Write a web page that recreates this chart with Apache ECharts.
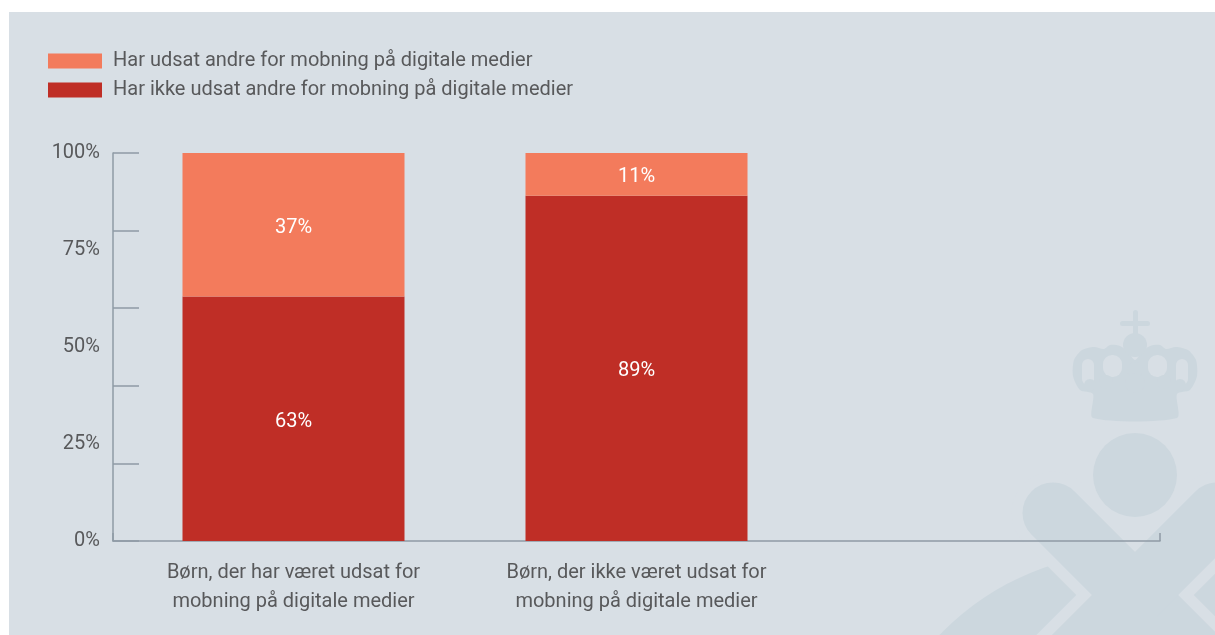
<!DOCTYPE html>
<html>
<head>
<meta charset="utf-8">
<script src="https://cdn.jsdelivr.net/npm/echarts@6/dist/echarts.min.js"></script>
<style>
html,body{margin:0;padding:0;background:#ffffff;}
#chart{width:1215px;height:635px;}
</style>
</head>
<body>
<div id="chart"></div>
<script>
// ---- data ----
const categories = [
  'Børn, der har været udsat for\nmobning på digitale medier',
  'Børn, der ikke været udsat for\nmobning på digitale medier',
  ''
];
const seriesNames = [
  'Har udsat andre for mobning på digitale medier',
  'Har ikke udsat andre for mobning på digitale medier'
];
const udsatValues = [37, 11, null];
const ikkeUdsatValues = [63, 89, null];
const yTickLabelStep = 25;
const yTickMarkStep = 20;

// ---- style ----
const FONT = 'Roboto';
const TEXT = '#58595b';
const AXIS = '#8f9ba5';
const BG = '#d8dfe5';
const WM = '#ccd7de';
const ORANGE = '#f37b5c';
const RED = '#bf2e26';
const FS = 20;

const chart = echarts.init(document.getElementById('chart'));

const crownPts = [
  [1093,418],[1093,394],[1080,390],[1073,376],[1074,360],[1082,350],[1094,347],
  [1104,349],[1110,345],[1120,346],[1128,352],[1135,360],[1142,352],[1150,346],[1160,345],
  [1166,349],[1176,347],[1188,350],[1196,360],[1197,376],[1190,390],[1177,394],[1177,418]
];

const watermark = [
  {type:'rect', z:-100, silent:true, shape:{x:9,y:12,width:1206,height:623}, style:{fill:BG}},
  {type:'circle', z:-90, silent:true, shape:{cx:1135,cy:824,r:272}, style:{fill:WM}},
  {type:'line', z:-89, silent:true, shape:{x1:1053,y1:513,x2:1330,y2:790}, style:{stroke:BG,lineWidth:83,lineCap:'round'}},
  {type:'line', z:-89, silent:true, shape:{x1:1217,y1:513,x2:940,y2:790}, style:{stroke:BG,lineWidth:83,lineCap:'round'}},
  {type:'line', z:-88, silent:true, shape:{x1:1053,y1:513,x2:1330,y2:790}, style:{stroke:WM,lineWidth:61,lineCap:'round'}},
  {type:'line', z:-88, silent:true, shape:{x1:1217,y1:513,x2:940,y2:790}, style:{stroke:WM,lineWidth:61,lineCap:'round'}},
  {type:'circle', z:-88, silent:true, shape:{cx:1135,cy:475,r:42}, style:{fill:WM}},
  {type:'polygon', z:-88, silent:true, shape:{points:crownPts, smooth:0.25}, style:{fill:WM}},
  {type:'rect', z:-87, silent:true, shape:{x:1082,y:359,width:12,height:26,r:6}, style:{fill:BG}},
  {type:'rect', z:-87, silent:true, shape:{x:1103,y:355,width:19,height:22,r:9}, style:{fill:BG}},
  {type:'rect', z:-87, silent:true, shape:{x:1176,y:359,width:12,height:26,r:6}, style:{fill:BG}},
  {type:'rect', z:-87, silent:true, shape:{x:1148,y:355,width:19,height:22,r:9}, style:{fill:BG}},
  {type:'circle', z:-86, silent:true, shape:{cx:1090,cy:385,r:6}, style:{fill:WM}},
  {type:'circle', z:-86, silent:true, shape:{cx:1106,cy:382,r:7}, style:{fill:WM}},
  {type:'circle', z:-86, silent:true, shape:{cx:1180,cy:385,r:6}, style:{fill:WM}},
  {type:'circle', z:-86, silent:true, shape:{cx:1164,cy:382,r:7}, style:{fill:WM}},
  {type:'circle', z:-86, silent:true, shape:{cx:1135,cy:370,r:8}, style:{fill:WM}},
  {type:'circle', z:-86, silent:true, shape:{cx:1135,cy:383,r:10}, style:{fill:WM}},
  {type:'circle', z:-86, silent:true, shape:{cx:1135,cy:345,r:12}, style:{fill:WM}},
  {type:'rect', z:-86, silent:true, shape:{x:1133,y:310,width:5,height:30,r:2.5}, style:{fill:WM}},
  {type:'rect', z:-86, silent:true, shape:{x:1120,y:321,width:30,height:5,r:2.5}, style:{fill:WM}}
];

const barLabel = {show: true, position: 'inside', offset: [0, 3], color: '#ffffff', fontSize: FS, fontFamily: FONT, formatter: '{c}%'};

const option = {
  backgroundColor: 'transparent',
  animation: false,
  textStyle: {fontFamily: FONT},
  graphic: watermark,
  legend: {
    orient: 'vertical',
    left: 48,
    top: 51,
    padding: 0,
    itemWidth: 54,
    itemHeight: 15,
    itemGap: 9,
    icon: 'rect',
    data: [seriesNames[0], seriesNames[1]],
    textStyle: {color: TEXT, fontSize: FS, fontFamily: FONT, padding: [0,0,0,6]},
    selectedMode: false
  },
  grid: [
    {left: 122, right: 64, top: 153, bottom: 94, containLabel: false},
    {left: 113, right: 55, top: 153, bottom: 94, containLabel: false}
  ],
  xAxis: [
    {
      type: 'category', gridIndex: 0,
      data: categories,
      axisLine: {show: false},
      axisTick: {show: false},
      axisLabel: {color: TEXT, fontSize: FS, lineHeight: 29, margin: 17, fontFamily: FONT, interval: 0},
      splitLine: {show: false}
    },
    {
      type: 'category', gridIndex: 1,
      data: categories.map(function () { return ''; }),
      axisLine: {show: true, lineStyle: {color: AXIS, width: 1.5}},
      axisTick: {show: true, inside: true, length: 8, interval: function (i) { return i === categories.length - 1; }, lineStyle: {color: AXIS, width: 1.5}},
      axisLabel: {show: false},
      splitLine: {show: false}
    }
  ],
  yAxis: [
    {
      type: 'value', gridIndex: 0, min: 0, max: 100, interval: yTickLabelStep,
      show: false
    },
    {
      type: 'value', gridIndex: 1, min: 0, max: 100, interval: yTickMarkStep, position: 'left',
      axisLine: {show: true, lineStyle: {color: AXIS, width: 1.5}},
      axisTick: {show: true, inside: true, length: 26, lineStyle: {color: AXIS, width: 1.5}},
      axisLabel: {show: false},
      splitLine: {show: false}
    },
    {
      type: 'value', gridIndex: 1, min: 0, max: 100, interval: yTickLabelStep, position: 'left', offset: 0,
      axisLine: {show: false},
      axisTick: {show: false},
      axisLabel: {show: true, color: TEXT, fontSize: FS, margin: 13, fontFamily: FONT, formatter: '{value}%'},
      splitLine: {show: false}
    }
  ],
  series: [
    {
      name: seriesNames[1], type: 'bar', stack: 'total', xAxisIndex: 0, yAxisIndex: 0,
      data: ikkeUdsatValues, barWidth: 222,
      itemStyle: {color: RED},
      label: barLabel
    },
    {
      name: seriesNames[0], type: 'bar', stack: 'total', xAxisIndex: 0, yAxisIndex: 0,
      data: udsatValues, barWidth: 222,
      itemStyle: {color: ORANGE},
      label: barLabel
    }
  ]
};
chart.setOption(option);
</script>
</body>
</html>
